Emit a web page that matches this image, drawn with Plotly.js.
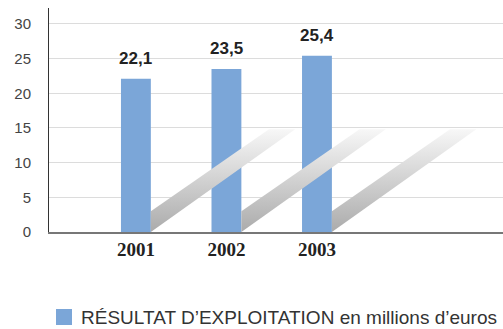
<!DOCTYPE html>
<html>
<head>
<meta charset="utf-8">
<script src="https://cdn.plot.ly/plotly-3.0.1.min.js"></script>
<style>
html,body{margin:0;padding:0;background:#fff;}
#chart{width:503px;height:329px;}
</style>
</head>
<body>
<div id="chart"></div>
<script>
const years = ['2001', '2002', '2003'];
const values = [22.1, 23.5, 25.4];
const valueLabels = ['22,1', '23,5', '25,4'];
const seriesName = 'RÉSULTAT D’EXPLOITATION en millions d’euros';
const yTicks = [0, 5, 10, 15, 20, 25, 30];

const barColor = '#7BA6D8';
const barWidth = 0.33;
const xRange = [-0.96, 4.055];

const traces = [];
// decorative diagonal shadows (one per bar), on an overlay linear axis
years.forEach((y, i) => {
  const xr = i + barWidth / 2;
  traces.push({
    type: 'scatter',
    xaxis: 'x2', yaxis: 'y',
    x: [xr, xr, i + 1.47, i + 1.76, xr],
    y: [0, 3.0, 14.8, 14.8, 0],
    mode: 'lines',
    line: {width: 0, color: 'rgba(0,0,0,0)'},
    fill: 'toself',
    fillcolor: '#d8d8d8',
    fillgradient: {type: 'vertical', colorscale: [[0, '#ababab'], [1, '#f7f7f7']]},
    hoverinfo: 'skip',
    showlegend: false
  });
});

traces.push({
  type: 'bar',
  x: years,
  y: values,
  name: seriesName,
  width: barWidth,
  marker: {color: barColor},
  showlegend: false,
  hoverinfo: 'x+y'
});

// category axes take the serial index of the category for annotations
const annotations = years.map((yr, i) => ({
  x: i, y: values[i], xref: 'x', yref: 'y',
  text: valueLabels[i],
  showarrow: false,
  yanchor: 'bottom',
  yshift: 9,
  font: {family: 'Liberation Sans, Arial, sans-serif', size: 17, color: '#222', weight: 'bold'}
}));
annotations.push({
  xref: 'paper', yref: 'paper',
  x: (79 - 49) / 454, y: -(317 - 232) / 224,
  xanchor: 'left', yanchor: 'middle',
  text: seriesName,
  showarrow: false,
  font: {family: 'Liberation Sans, Arial, sans-serif', size: 19, color: '#333'}
});

const layout = {
  width: 503, height: 329,
  margin: {l: 49, r: 0, t: 8, b: 97},
  paper_bgcolor: '#fff', plot_bgcolor: '#fff',
  showlegend: false,
  xaxis: {
    type: 'category',
    range: xRange,
    showgrid: false,
    zeroline: false,
    showline: true, linecolor: '#777', linewidth: 1.5,
    ticks: '',
    ticklabelstandoff: 0,
    tickfont: {family: 'Liberation Serif, Times New Roman, serif', size: 19, color: '#222', weight: 'bold'},
    fixedrange: true
  },
  xaxis2: {
    overlaying: 'x', range: xRange, visible: false, fixedrange: true
  },
  yaxis: {
    range: [0, 32.3],
    tickvals: yTicks,
    ticktext: yTicks.map(String),
    showgrid: true, gridcolor: '#dcdcdc', gridwidth: 1,
    zeroline: false,
    showline: true, linecolor: '#333', linewidth: 1,
    ticks: '',
    ticklabelstandoff: 14,
    tickfont: {family: 'Liberation Sans, Arial, sans-serif', size: 15, color: '#444'},
    fixedrange: true
  },
  shapes: [{
    type: 'rect', xref: 'paper', yref: 'paper',
    x0: (56 - 49) / 454, x1: (72 - 49) / 454,
    y0: -(325 - 232) / 224, y1: -(309 - 232) / 224,
    fillcolor: barColor, line: {width: 0}
  }],
  annotations: annotations
};

Plotly.newPlot('chart', traces, layout, {displayModeBar: false, staticPlot: true});
</script>
</body>
</html>
